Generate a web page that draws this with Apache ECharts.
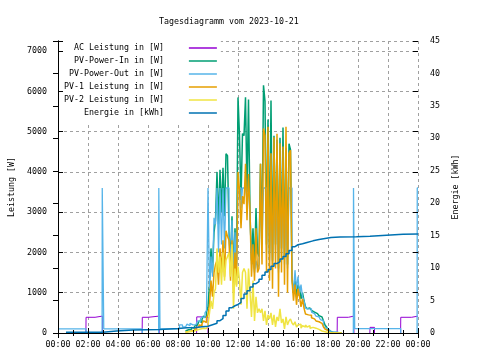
<!DOCTYPE html>
<html><head><meta charset="utf-8">
<script src="https://cdn.jsdelivr.net/npm/echarts@6/dist/echarts.min.js"></script>
<style>html,body{margin:0;padding:0;background:#fff}#c{width:480px;height:360px}</style>
</head><body><div id="c"></div>
<script>
const chartTitle = 'Tagesdiagramm vom 2023-10-21';
const seriesNames = ['AC Leistung in [W]','PV-Power-In in [W]','PV-Power-Out in [W]','PV-1 Leistung in [W]','PV-2 Leistung in [W]','Energie in [kWh]'];
const seriesColors = ['#9400d3','#009e73','#56b4e9','#e69f00','#f0e442','#0072b2'];
const leftAxisName = 'Leistung [W]';
const rightAxisName = 'Energie [kWh]';

// daytime sampling grid: 8.5 h .. 18.9 h, every 0.1 h
const dayStart = 8.5, dayStep = 0.1;

// [hour, W] points outside the daytime grid (null = no line drawn)
const acPoints = [[1.86,0],[1.87,390],[2.47,420],[2.97,0],[2.98,null],[5.61,0],[5.62,390],[6.02,420],[6.75,0],[6.76,null],
  [9.24,0],[9.25,400],[10.0,0],[10.01,null],[18.61,0],[18.62,390],[19.36,420],[19.73,0],[19.74,null],
  [20.79,0],[20.8,140],[21.1,0],[21.11,null],[22.84,0],[22.85,390],[23.58,420],[24,420]];
const outBefore = [[0,100],[1.87,0],[1.88,null],[2.94,0],[2.95,3600],[3.05,100],[5.62,0],[5.63,null],[6.71,0],[6.72,3600],[6.8,100],[8.1,200],[8.3,150]];
const outAfter = [[18.62,0],[18.63,null],[19.69,0],[19.70,3600],[19.78,110],[22.85,0],[22.86,null],[23.94,0],[23.95,3600],[24,3600]];

const inDay = [50,80,110,90,140,120,170,200,
  240,300,260,340,420,380,520,
  650,
  1200,2100,1500,2500,2800,
  4000,2700,4050,3000,4100,2900,4450,4400,
  2500,1800,2900,1500,2600,1700,
  5850,4900,3300,4950,4900,5850,3500,5800,
  3000,1800,2600,1600,3100,2000,1900,
  4200,2300,6150,5750,2200,5300,
  2000,5770,1800,4900,2200,4800,1600,4850,2100,5100,1900,4600,1700,4700,4550,
  1400,1000,1300,900,1200,1100,850,1000,800,
  650,600,620,580,560,520,500,480,470,430,400,380,
  300,200,150,80,40,10,
  0,0,0,0,0,0,0];
const outDay = [150,220,180,240,200,160,210,250,
  300,280,350,400,380,500,560,
  3600,
  1100,1900,1400,2860,2700,
  3600,2000,3600,2200,3600,2100,3600,3600,
  2400,1700,2800,1400,2500,1600,
  3600,3600,3100,3600,3600,3600,3300,3600,
  2900,1700,1800,1500,1800,1600,1700,
  3600,2200,3600,3600,2000,3600,
  1800,3600,1700,3600,2060,3600,1500,3600,1900,3600,1700,3600,1600,3600,3600,
  1300,1000,1560,1100,1400,990,1200,900,800,
  620,600,560,600,520,480,450,420,400,370,330,300,
  150,120,100,80,50,30,
  30,30,30,0,0,0,0];
const pv1Day = [20,40,60,50,80,70,100,120,
  150,200,180,230,300,260,380,
  450,
  700,1300,900,1500,1700,
  1800,1200,2100,1500,2300,1400,2540,2400,
  2300,1300,2300,1000,2000,1200,
  4000,3550,2600,3400,3200,4200,2800,3950,
  3000,1400,2200,1300,2600,1500,1600,
  4200,1700,5080,4900,1500,5120,
  1300,4460,1100,4860,1600,4950,900,4710,1500,4630,1200,5120,1000,4460,4540,
  1300,800,1200,700,1100,900,650,850,620,
  470,450,420,440,380,350,330,300,280,260,240,220,
  150,100,60,30,10,0,
  0,0,0,0,0,0,0];
const pv2Day = [20,30,50,40,60,50,70,80,
  90,100,80,120,130,110,150,
  200,
  500,800,600,1000,1100,
  2100,1500,1900,1200,2000,1300,1800,1900,
  2000,1400,2200,600,1600,1150,
  1650,1300,700,1500,1600,1500,600,1600,
  1000,400,1300,300,900,500,600,
  500,600,300,550,200,450,
  350,500,200,450,150,400,300,600,250,350,100,400,200,300,350,
  250,200,280,150,200,220,120,180,150,
  200,150,180,120,140,100,120,80,90,60,50,40,
  30,20,10,0,0,0,
  0,0,0,0,0,0,0];
// [hour, kWh]
const energyPoints = [[0.53,0.1],[3.0,0.3],[3.9,0.45],[5.0,0.55],[6.8,0.7],[8.0,0.8],[8.6,0.85],[9.2,0.95],[9.6,1.05],
  [10.0,1.2],[10.2,1.35],[10.4,1.5],[10.6,1.9],[10.8,2.2],[11.0,2.7],[11.2,3.4],[11.4,3.9],[11.6,4.2],[11.8,4.4],
  [12.0,4.7],[12.2,5.3],[12.4,6.0],[12.6,6.5],[12.8,7.1],[13.0,7.6],[13.2,7.9],[13.4,8.3],[13.6,8.9],[13.8,9.4],
  [14.0,9.8],[14.2,10.3],[14.4,10.7],[14.6,11.0],[14.8,11.4],[15.0,11.8],[15.2,12.2],[15.4,12.7],[15.6,13.3],[15.8,13.6],
  [16.0,13.75],[16.3,13.95],[16.6,14.2],[17.0,14.4],[17.4,14.55],[17.8,14.7],[18.2,14.8],[18.8,14.85],[19.9,14.9],
  [20.8,15.05],[21.9,15.2],[23.0,15.25],[24.0,15.3]];

function withDay(before, vals, after) {
  const pts = before.slice();
  vals.forEach((v, i) => pts.push([Math.round((dayStart + i * dayStep) * 100) / 100, v]));
  return pts.concat(after);
}

const FONT = 'DejaVu Sans Mono';
const FS = 8.3;
const chart = echarts.init(document.getElementById('c'), null, {renderer: 'canvas'});
const hourFmt = v => String(Math.round(v) % 24).padStart(2, '0') + ':00';
const baseX = {type: 'value', min: 0, max: 24, interval: 2, gridIndex: 0};
const baseLeft = {type: 'value', min: 0, max: 7250, interval: 1000};
const tickStyle = {show: true, inside: true, length: 5, lineStyle: {color: '#000', width: 1}};
const minorStyle = {show: true, splitNumber: 2, length: 3, lineStyle: {color: '#000', width: 1}};

function lineSeries(name, idx, data, yIdx, width) {
  return {name, type: 'line', step: 'end', data, xAxisIndex: 0, yAxisIndex: yIdx,
    showSymbol: false, symbol: 'none', animation: false, connectNulls: false,
    lineStyle: {color: seriesColors[idx], width: width || 1}, itemStyle: {color: seriesColors[idx]}};
}

chart.setOption({
  animation: false,
  backgroundColor: '#fff',
  title: {text: chartTitle, left: 154, top: 13, textStyle: {fontFamily: FONT, fontSize: FS, fontWeight: 'normal', color: '#000'}},
  grid: {left: 58, right: 62, top: 41, bottom: 27},
  legend: {
    data: seriesNames.map(n => ({name: n, icon: 'rect'})),
    orient: 'vertical', align: 'right', left: 60, top: 40.5,
    itemWidth: 28, itemHeight: 1.5, itemGap: 0,
    padding: [1, 4, 4, 4], backgroundColor: '#fff',
    formatter: n => n.padStart(20, ' ') + '    ',
    textStyle: {fontFamily: FONT, fontSize: FS, color: '#000', lineHeight: 13},
    selectedMode: false
  },
  xAxis: [
    Object.assign({}, baseX, {position: 'bottom', z: 0,
      axisLine: {show: false}, axisTick: {show: false},
      axisLabel: {formatter: hourFmt, fontFamily: FONT, fontSize: FS, color: '#000', margin: 8},
      splitLine: {show: true, lineStyle: {color: '#a0a0a0', type: [3, 3], width: 1}}}),
    Object.assign({}, baseX, {position: 'bottom', z: 10,
      axisLine: {show: true, lineStyle: {color: '#000', width: 1}}, axisTick: tickStyle, minorTick: minorStyle,
      axisLabel: {show: false}, splitLine: {show: false}}),
    Object.assign({}, baseX, {position: 'top', z: 10,
      axisLine: {show: true, lineStyle: {color: '#000', width: 1}}, axisTick: tickStyle, minorTick: minorStyle,
      axisLabel: {show: false}, splitLine: {show: false}})
  ],
  yAxis: [
    Object.assign({}, baseLeft, {position: 'left', z: 0,
      name: leftAxisName, nameLocation: 'middle', nameRotate: 90, nameGap: 42,
      nameTextStyle: {fontFamily: FONT, fontSize: FS, color: '#000'},
      axisLine: {show: false}, axisTick: {show: false},
      axisLabel: {showMaxLabel: false, formatter: v => String(v), fontFamily: FONT, fontSize: FS, color: '#000', margin: 11},
      splitLine: {show: true, lineStyle: {color: '#a0a0a0', type: [3, 3], width: 1}}}),
    {type: 'value', min: 0, max: 45, interval: 5, position: 'right', z: 10,
      name: rightAxisName, nameLocation: 'middle', nameRotate: 90, nameGap: 34,
      nameTextStyle: {fontFamily: FONT, fontSize: FS, color: '#000'},
      axisLine: {show: true, lineStyle: {color: '#000', width: 1}}, axisTick: tickStyle,
      axisLabel: {fontFamily: FONT, fontSize: FS, color: '#000', margin: 12},
      splitLine: {show: false}},
    Object.assign({}, baseLeft, {position: 'left', z: 10,
      axisLine: {show: true, lineStyle: {color: '#000', width: 1}}, axisTick: tickStyle,
      axisLabel: {show: false}, splitLine: {show: false}}),
    Object.assign({}, baseLeft, {position: 'right', z: 10,
      axisLine: {show: false}, axisTick: tickStyle,
      axisLabel: {show: false}, splitLine: {show: false}})
  ],
  series: [
    lineSeries(seriesNames[0], 0, acPoints, 0),
    lineSeries(seriesNames[1], 1, withDay([], inDay, []), 0, 1.5),
    lineSeries(seriesNames[2], 2, withDay(outBefore, outDay, outAfter), 0, 1.3),
    lineSeries(seriesNames[3], 3, withDay([], pv1Day, []), 0, 1.5),
    lineSeries(seriesNames[4], 4, withDay([], pv2Day, []), 0, 1.5),
    lineSeries(seriesNames[5], 5, energyPoints, 1, 1.5)
  ]
});
</script></body></html>
